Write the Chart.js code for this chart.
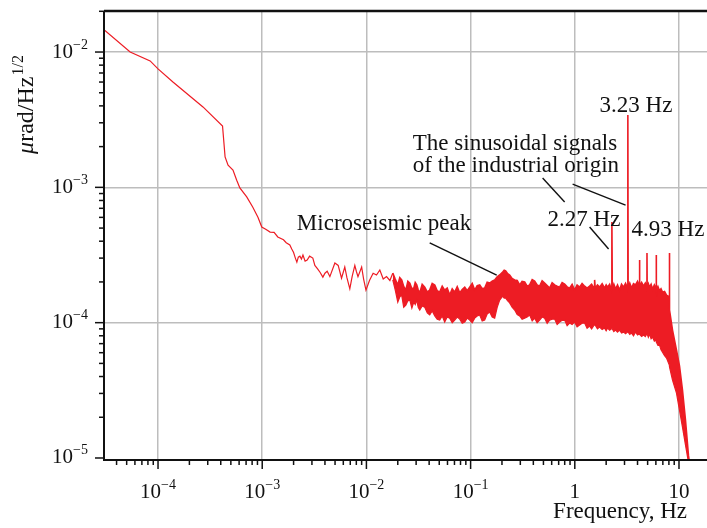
<!DOCTYPE html>
<html>
<head>
<meta charset="utf-8">
<script src="https://cdn.jsdelivr.net/npm/chart.js@4.4.1/dist/chart.umd.min.js"></script>
<style>
  html, body { margin: 0; padding: 0; background: #fff; }
  canvas { display: block; }
</style>
</head>
<body>
<canvas id="myChart" width="707" height="528"></canvas>
<script>
// low frequency part of the spectrum, a single thin trace (Hz, urad/Hz^1/2)
const traceFreq = [3.03e-5, 5.4e-5, 8.4e-5, 1.0e-4, 1.39e-4, 2.7e-4, 4.16e-4, 4.4e-4, 4.7e-4, 5.24e-4,
  5.69e-4, 6.1e-4, 7.1e-4, 8.1e-4, 9.1e-4, 9.9e-4, 1.08e-3, 1.19e-3, 1.3e-3, 1.41e-3,
  1.6e-3, 1.7e-3, 1.84e-3, 1.92e-3, 2.0e-3, 2.08e-3, 2.15e-3, 2.22e-3, 2.3e-3, 2.38e-3,
  2.46e-3, 2.58e-3, 2.7e-3, 2.85e-3, 3.06e-3, 3.2e-3, 3.4e-3, 3.6e-3, 3.82e-3, 4.0e-3,
  4.2e-3, 4.46e-3, 4.98e-3, 5.36e-3, 5.77e-3, 6.2e-3, 6.5e-3, 6.93e-3, 7.3e-3, 7.74e-3,
  8.0e-3, 8.3e-3, 9.0e-3, 9.4e-3, 9.9e-3, 0.0107, 0.0116, 0.0125, 0.01345, 0.0145,
  0.0156, 0.0168, 0.0179]
const traceValue = [0.0146, 0.0100, 0.0086, 0.0075, 0.0060, 0.00393, 0.00284, 0.00168, 0.00146, 0.00134,
  0.00113, 0.00099, 0.00085, 0.000715, 0.000602, 0.000509, 0.00049, 0.000467, 0.000465, 0.00043,
  0.00041, 0.00039, 0.000375, 0.00035, 0.00033, 0.0003, 0.00028, 0.000305, 0.00031, 0.000295,
  0.000316, 0.000285, 0.00029, 0.00031, 0.0003, 0.000265, 0.00025, 0.000235, 0.000217, 0.000232,
  0.00024, 0.000219, 0.000276, 0.000265, 0.000213, 0.000258, 0.000215, 0.000178, 0.00022, 0.000265,
  0.00024, 0.000219, 0.000258, 0.00021, 0.000174, 0.000205, 0.000232, 0.000225, 0.000245, 0.00021,
  0.000219, 0.000205, 0.000232]

// high frequency part: the noise band, as its upper and lower edge
const bandFreq = [0.0179, 0.0189, 0.0200, 0.0209, 0.0218, 0.0228, 0.0239, 0.0250, 0.0261, 0.0273,
  0.0285, 0.0294, 0.0304, 0.0314, 0.0325, 0.0343, 0.0363, 0.0384, 0.0405, 0.0428,
  0.0453, 0.0478, 0.0505, 0.0534, 0.0564, 0.0596, 0.0630, 0.0666, 0.0704, 0.0744,
  0.0786, 0.0831, 0.0878, 0.0928, 0.0980, 0.1036, 0.1095, 0.1157, 0.1222, 0.1292,
  0.1365, 0.1442, 0.1524, 0.1611, 0.1702, 0.1800, 0.1901, 0.2031, 0.2100, 0.2170,
  0.2270, 0.2370, 0.2500, 0.2647, 0.2800, 0.2956, 0.3120, 0.3302, 0.3490, 0.3687,
  0.3900, 0.4117, 0.4350, 0.4598, 0.4860, 0.5135, 0.5430, 0.5734, 0.6060, 0.6404,
  0.6770, 0.7151, 0.7560, 0.7986, 0.8440, 0.8917, 0.9420, 0.9956, 1.052, 1.112,
  1.175, 1.242, 1.312, 1.387, 1.45, 1.53, 1.55, 1.57, 1.65, 1.729,
  1.83, 1.931, 2.00, 2.063, 2.16, 2.25, 2.27, 2.29, 2.37, 2.462,
  2.57, 2.689, 2.81, 2.937, 3.07, 3.21, 3.23, 3.25, 3.37, 3.505,
  3.66, 3.827, 4.00, 4.16, 4.18, 4.20, 4.38, 4.567, 4.75, 4.91,
  4.93, 4.95, 5.08, 5.214, 5.40, 5.569, 5.80, 6.03, 6.05, 6.07,
  6.28, 6.501, 6.72, 6.946, 7.27, 7.591, 8.08, 8.10, 8.12, 8.666,
  9.462, 10.11, 10.80, 11.54, 12.33, 12.6]
const bandMax = [2.33e-4, 2.10e-4, 1.90e-4, 2.15e-4, 2.07e-4, 1.85e-4, 1.74e-4, 2.02e-4, 1.96e-4, 1.78e-4,
  1.80e-4, 1.98e-4, 1.90e-4, 1.75e-4, 1.66e-4, 1.92e-4, 1.83e-4, 1.68e-4, 1.74e-4, 1.95e-4,
  1.90e-4, 1.72e-4, 1.68e-4, 1.86e-4, 1.74e-4, 1.80e-4, 1.60e-4, 1.78e-4, 1.68e-4, 1.84e-4,
  1.66e-4, 1.76e-4, 1.83e-4, 1.72e-4, 1.83e-4, 1.95e-4, 1.74e-4, 1.88e-4, 1.90e-4, 1.78e-4,
  1.80e-4, 1.99e-4, 1.96e-4, 2.03e-4, 2.07e-4, 2.18e-4, 2.25e-4, 2.37e-4, 2.44e-4, 2.41e-4,
  2.30e-4, 2.25e-4, 2.12e-4, 2.07e-4, 2.05e-4, 1.90e-4, 2.02e-4, 2.00e-4, 1.86e-4, 1.90e-4,
  2.08e-4, 2.03e-4, 1.90e-4, 1.86e-4, 2.04e-4, 1.96e-4, 1.88e-4, 1.80e-4, 1.97e-4, 1.90e-4,
  1.86e-4, 1.83e-4, 1.98e-4, 1.93e-4, 1.84e-4, 1.80e-4, 1.92e-4, 1.74e-4, 1.90e-4, 1.83e-4,
  1.95e-4, 1.86e-4, 1.80e-4, 1.86e-4, 1.92e-4, 1.80e-4, 2.07e-4, 1.80e-4, 1.90e-4, 1.83e-4,
  1.94e-4, 1.80e-4, 1.90e-4, 1.83e-4, 1.92e-4, 1.74e-4, 5.54e-4, 1.77e-4, 1.92e-4, 1.77e-4,
  1.90e-4, 1.74e-4, 1.92e-4, 1.83e-4, 1.95e-4, 1.80e-4, 3.42e-3, 1.80e-4, 1.96e-4, 1.80e-4,
  1.94e-4, 1.90e-4, 2.02e-4, 1.86e-4, 2.9e-4, 1.86e-4, 1.98e-4, 1.86e-4, 1.96e-4, 1.83e-4,
  3.27e-4, 1.83e-4, 1.94e-4, 1.83e-4, 1.92e-4, 1.77e-4, 1.90e-4, 1.77e-4, 3.16e-4, 1.74e-4,
  1.85e-4, 1.72e-4, 1.78e-4, 1.68e-4, 1.70e-4, 1.60e-4, 1.55e-4, 3.27e-4, 1.24e-4, 8.81e-5,
  6.27e-5, 4.8e-5, 3.18e-5, 1.91e-5, 1.04e-5, 9.3e-6]
const bandMin = [2.07e-4, 1.75e-4, 1.42e-4, 1.55e-4, 1.60e-4, 1.30e-4, 1.35e-4, 1.45e-4, 1.47e-4, 1.28e-4,
  1.42e-4, 1.36e-4, 1.47e-4, 1.30e-4, 1.24e-4, 1.33e-4, 1.30e-4, 1.18e-4, 1.14e-4, 1.22e-4,
  1.12e-4, 1.06e-4, 1.045e-4, 1.12e-4, 1.01e-4, 1.10e-4, 1.08e-4, 1.00e-4, 1.045e-4, 1.10e-4,
  1.063e-4, 9.9e-5, 1.01e-4, 1.08e-4, 1.045e-4, 1.00e-4, 1.08e-4, 1.12e-4, 1.14e-4, 1.03e-4,
  1.045e-4, 1.16e-4, 1.20e-4, 1.10e-4, 1.08e-4, 1.30e-4, 1.47e-4, 1.57e-4, 1.52e-4, 1.52e-4,
  1.45e-4, 1.40e-4, 1.30e-4, 1.24e-4, 1.15e-4, 1.12e-4, 1.06e-4, 1.08e-4, 1.10e-4, 1.14e-4,
  1.03e-4, 1.08e-4, 1.00e-4, 1.045e-4, 1.10e-4, 1.08e-4, 9.9e-5, 1.045e-4, 1.06e-4, 1.063e-4,
  9.7e-5, 1.01e-4, 1.04e-4, 1.045e-4, 9.5e-5, 9.93e-5, 9.7e-5, 1.01e-4, 9.3e-5, 9.6e-5,
  9.9e-5, 9.93e-5, 9.1e-5, 9.44e-5, 9.0e-5, 9.6e-5, 9.6e-5, 9.6e-5, 9.0e-5, 9.28e-5,
  8.9e-5, 9.12e-5, 8.7e-5, 9.12e-5, 8.8e-5, 9.0e-5, 9.0e-5, 9.0e-5, 8.6e-5, 8.81e-5,
  8.5e-5, 8.81e-5, 8.4e-5, 8.52e-5, 8.3e-5, 8.52e-5, 8.52e-5, 8.52e-5, 8.2e-5, 8.37e-5,
  8.0e-5, 8.52e-5, 8.1e-5, 8.24e-5, 8.24e-5, 8.24e-5, 7.9e-5, 8.09e-5, 7.9e-5, 8.24e-5,
  8.24e-5, 8.24e-5, 7.8e-5, 8.24e-5, 7.6e-5, 7.83e-5, 7.3e-5, 7.44e-5, 7.3e-5, 7.19e-5,
  6.8e-5, 6.83e-5, 6.3e-5, 6.06e-5, 5.7e-5, 5.48e-5, 4.86e-5, 4.8e-5, 4.7e-5, 3.77e-5,
  3.02e-5, 2.26e-5, 1.69e-5, 1.25e-5, 9.3e-6, 9.0e-6]

// annotations, placed in data coordinates (left end of text, baseline)
const noteText = ['3.23 Hz', 'The sinusoidal signals', 'of the industrial origin', '2.27 Hz', '4.93 Hz', 'Microseismic peak']
const noteFreq = [1.729, 0.02786, 0.02786, 0.548, 3.505, 2.15e-3]
const noteValue = [3.6e-3, 1.887e-3, 1.297e-3, 5.18e-4, 4.37e-4, 4.83e-4]
const leaderFrom = [[0.491, 1.171e-3], [0.953, 1.058e-3], [1.387, 5.09e-4], [0.0405, 3.88e-4]]
const leaderTo = [[0.799, 7.79e-4], [3.07, 7.4e-4], [2.11, 3.5e-4], [0.178, 2.25e-4]]

const red = 'rgb(237, 28, 36)'
const serif = '"Liberation Serif", "Times New Roman", serif'

const toPoints = (xs, ys) => xs.map((x, i) => ({x: x, y: ys[i]}))

function isDecade(v) {
  const l = Math.log10(v)
  return Math.abs(l - Math.round(l)) < 1e-6
}

const gridColor = c => (c.tick && isDecade(c.tick.value)) ? '#bdbdbd' : 'rgba(0,0,0,0)'

function drawPower(ctx, e, x, y, align) {
  let base = '10', sup = '\u2212' + (-e)
  if (e === 0) { base = '1'; sup = '' }
  if (e === 1) { sup = '' }
  ctx.font = '21px ' + serif
  const wb = ctx.measureText(base).width
  ctx.font = '14px ' + serif
  const ws = sup ? ctx.measureText(sup).width : 0
  const start = align === 'center' ? x - (wb + ws) / 2 : x - wb - ws
  ctx.textAlign = 'left'
  ctx.font = '21px ' + serif
  ctx.fillText(base, start, y)
  if (sup) {
    ctx.font = '14px ' + serif
    ctx.fillText(sup, start + wb, y - 9)
  }
}

const axesPlugin = {
  id: 'axesAndText',
  afterDraw(chart) {
    const ctx = chart.ctx
    const {left, right, top, bottom} = chart.chartArea
    const xs = chart.scales.x, ys = chart.scales.y
    const line = (x1, y1, x2, y2) => { ctx.beginPath(); ctx.moveTo(x1, y1); ctx.lineTo(x2, y2); ctx.stroke() }
    ctx.save()
    ctx.strokeStyle = '#111'
    ctx.lineWidth = 2.5
    line(left, top, right, top)
    ctx.lineWidth = 2
    line(left, top, left, bottom + 2)
    line(left - 1, bottom + 1, right, bottom + 1)

    // major and minor ticks
    ctx.lineWidth = 1.5
    for (let e = -6; e <= 2; e++) {
      for (let k = 1; k <= 9; k++) {
        const v = k * Math.pow(10, e)
        if (v >= ys.min && v <= ys.max) {
          const py = ys.getPixelForValue(v)
          line(left - (k === 1 ? 9 : 5), py, left, py)
        }
        if (v >= xs.min && v <= xs.max) {
          const px = xs.getPixelForValue(v)
          line(px, bottom + 1, px, bottom + 1 + (k === 1 ? 9 : 5))
        }
      }
    }

    // tick labels
    ctx.fillStyle = '#111'
    ctx.textBaseline = 'alphabetic'
    for (let e = -4; e <= 1; e++) drawPower(ctx, e, xs.getPixelForValue(Math.pow(10, e)), 498, 'center')
    for (let e = -5; e <= -2; e++) drawPower(ctx, e, 88, ys.getPixelForValue(Math.pow(10, e)) + 5.5, 'right')

    // axis titles
    ctx.font = '23px ' + serif
    ctx.textAlign = 'right'
    ctx.fillText('Frequency, Hz', right - 20, 518)

    ctx.save()
    ctx.translate(33, 105)
    ctx.rotate(-Math.PI / 2)
    ctx.textAlign = 'left'
    ctx.font = 'italic 24px ' + serif
    const w1 = ctx.measureText('\u03bc').width
    ctx.font = '24px ' + serif
    const w2 = ctx.measureText('rad/Hz').width
    ctx.font = '16px ' + serif
    const w3 = ctx.measureText('1/2').width
    let sx = -(w1 + w2 + w3) / 2
    ctx.font = 'italic 24px ' + serif
    ctx.fillText('\u03bc', sx, 0)
    ctx.font = '24px ' + serif
    ctx.fillText('rad/Hz', sx + w1, 0)
    ctx.font = '16px ' + serif
    ctx.fillText('1/2', sx + w1 + w2 + 1, -10)
    ctx.restore()

    // annotations
    ctx.font = '23px ' + serif
    ctx.textAlign = 'left'
    noteText.forEach((t, i) => {
      ctx.fillText(t, xs.getPixelForValue(noteFreq[i]), ys.getPixelForValue(noteValue[i]))
    })
    ctx.lineWidth = 1.4
    leaderFrom.forEach((p, i) => {
      const q = leaderTo[i]
      line(xs.getPixelForValue(p[0]), ys.getPixelForValue(p[1]), xs.getPixelForValue(q[0]), ys.getPixelForValue(q[1]))
    })
    ctx.restore()
  }
}

const ctx = document.getElementById('myChart').getContext('2d')
const myChart = new Chart(ctx, {
  type: 'line',
  data: {
    datasets: [
      { data: toPoints(traceFreq, traceValue), borderColor: red, borderWidth: 1.2, pointRadius: 0, fill: false },
      { data: toPoints(bandFreq, bandMax), borderColor: red, borderWidth: 1.6, pointRadius: 0, fill: false },
      { data: toPoints(bandFreq, bandMin), borderColor: red, borderWidth: 1.2, pointRadius: 0, backgroundColor: red, fill: '-1' }
    ]
  },
  options: {
    responsive: false,
    animation: false,
    devicePixelRatio: 1,
    layout: { padding: { left: 104, top: 11, right: 0, bottom: 69 } },
    plugins: { legend: { display: false }, tooltip: { enabled: false } },
    scales: {
      x: {
        type: 'logarithmic', min: 3.03e-5, max: 18.57,
        border: { display: false },
        grid: { color: gridColor, lineWidth: 1.5, drawTicks: false },
        ticks: { display: false }
      },
      y: {
        type: 'logarithmic', min: 9.83e-6, max: 0.0201,
        border: { display: false },
        grid: { color: gridColor, lineWidth: 1.5, drawTicks: false },
        ticks: { display: false }
      }
    }
  },
  plugins: [axesPlugin]
})
</script>
</body>
</html>
